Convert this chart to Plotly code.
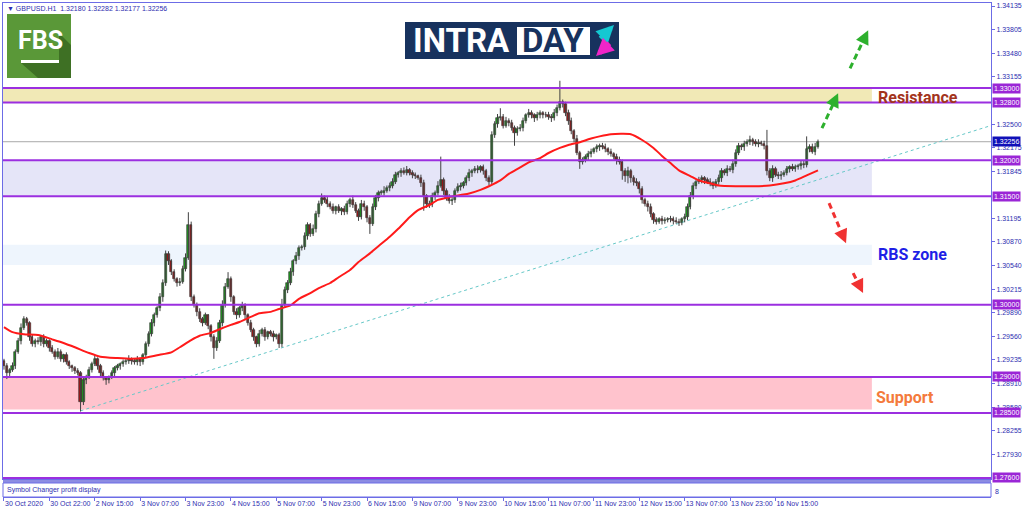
import plotly.graph_objects as go

# ---------------- data ----------------
first_open = 1.2922
closes = [
    1.2915, 1.2905, 1.2910, 1.2915, 1.2935, 1.2950, 1.2968, 1.2980, 1.2975, 1.2955,
    1.2945, 1.2950, 1.2948, 1.2955, 1.2945, 1.2950, 1.2940, 1.2935, 1.2928, 1.2935,
    1.2925, 1.2930, 1.2920, 1.2915, 1.2912, 1.2908, 1.2905, 1.2865, 1.2895, 1.2900,
    1.2910, 1.2918, 1.2925, 1.2915, 1.2905, 1.2898, 1.2895, 1.2900, 1.2905, 1.2912,
    1.2915, 1.2918, 1.2920, 1.2922, 1.2925, 1.2922, 1.2920, 1.2925, 1.2920, 1.2930,
    1.2945, 1.2960, 1.2975, 1.2985, 1.2995, 1.3010, 1.3030, 1.3070, 1.3060, 1.3045,
    1.3035, 1.3030, 1.3032, 1.3050, 1.3065, 1.3110, 1.3010, 1.3000, 1.2990, 1.2980,
    1.2975, 1.2985, 1.2970, 1.2955, 1.2940, 1.2950, 1.2975, 1.3000, 1.3025, 1.3035,
    1.3010, 1.2990, 1.2985, 1.2995, 1.3000, 1.2985, 1.2975, 1.2965, 1.2955, 1.2945,
    1.2960, 1.2965, 1.2955, 1.2962, 1.2960, 1.2955, 1.2958, 1.2945, 1.3000, 1.3020,
    1.3030, 1.3045, 1.3060, 1.3068, 1.3078, 1.3080, 1.3095, 1.3110, 1.3098, 1.3105,
    1.3125, 1.3140, 1.3148, 1.3145, 1.3140, 1.3135, 1.3130, 1.3135, 1.3130, 1.3132,
    1.3128, 1.3140, 1.3145, 1.3138, 1.3130, 1.3122, 1.3140, 1.3135, 1.3120, 1.3112,
    1.3135, 1.3148, 1.3155, 1.3155, 1.3158, 1.3162, 1.3165, 1.3170, 1.3180, 1.3182,
    1.3185, 1.3183, 1.3186, 1.3182, 1.3180, 1.3178, 1.3176, 1.3168, 1.3150, 1.3140,
    1.3138, 1.3150, 1.3155, 1.3165, 1.3172, 1.3158, 1.3148, 1.3143, 1.3145, 1.3158,
    1.3163, 1.3165, 1.3168, 1.3175, 1.3182, 1.3185, 1.3188, 1.3186, 1.3190, 1.3185,
    1.3175, 1.3170, 1.3235, 1.3250, 1.3258, 1.3260, 1.3248, 1.3255, 1.3252, 1.3245,
    1.3238, 1.3243, 1.3245, 1.3255, 1.3262, 1.3265, 1.3262, 1.3258, 1.3262, 1.3265,
    1.3263, 1.3262, 1.3260, 1.3258, 1.3265, 1.3272, 1.3280, 1.3278, 1.3265, 1.3255,
    1.3240, 1.3230, 1.3210, 1.3198, 1.3200, 1.3205, 1.3208, 1.3212, 1.3215, 1.3218,
    1.3220, 1.3218, 1.3215, 1.3212, 1.3208, 1.3205, 1.3200, 1.3198, 1.3185, 1.3178,
    1.3185, 1.3175, 1.3170, 1.3168, 1.3160, 1.3145, 1.3140, 1.3135, 1.3125, 1.3117,
    1.3115, 1.3118, 1.3116, 1.3117, 1.3118, 1.3119, 1.3116, 1.3115, 1.3113, 1.3118,
    1.3122, 1.3135, 1.3150, 1.3165, 1.3170, 1.3172, 1.3175, 1.3172, 1.3170, 1.3168,
    1.3165, 1.3170, 1.3175, 1.3185, 1.3182, 1.3188, 1.3187, 1.3195, 1.3210, 1.3220,
    1.3218, 1.3222, 1.3225, 1.3228, 1.3225, 1.3222, 1.3224, 1.3223, 1.3220, 1.3185,
    1.3175, 1.3188, 1.3180, 1.3178, 1.3180, 1.3183, 1.3188, 1.3190, 1.3188, 1.3190,
    1.3192, 1.3195, 1.3193, 1.3215, 1.3218, 1.3212, 1.3218, 1.32256,
]
# upper / lower wick lengths in pips (0.0001)
wick_up = [
    3, 4, 2, 5, 3, 4, 6, 4, 3, 2,
    4, 3, 5, 2, 4, 3, 2, 4, 3, 5,
    3, 2, 4, 3, 2, 3, 4, 3, 5, 3,
    4, 3, 5, 2, 3, 4, 3, 2, 4, 3,
    3, 2, 4, 3, 5, 2, 3, 4, 2, 3,
    4, 3, 5, 4, 3, 6, 5, 5, 4, 3,
    4, 3, 5, 4, 6, 18, 5, 4, 3, 5,
    3, 4, 2, 3, 4, 5, 4, 6, 5, 10,
    4, 3, 5, 3, 4, 2, 3, 4, 3, 2,
    5, 3, 4, 2, 3, 4, 2, 3, 8, 5,
    4, 6, 3, 5, 4, 3, 5, 4, 3, 6,
    5, 4, 6, 3, 4, 3, 5, 2, 4, 3,
    5, 4, 3, 6, 4, 3, 5, 4, 3, 4,
    5, 4, 3, 4, 6, 3, 4, 5, 4, 3,
    4, 5, 6, 3, 4, 3, 2, 4, 5, 3,
    4, 5, 3, 6, 33, 4, 3, 5, 4, 3,
    5, 4, 3, 4, 6, 3, 4, 5, 3, 4,
    3, 4, 5, 4, 6, 12, 4, 5, 3, 4,
    3, 4, 5, 4, 3, 6, 4, 3, 5, 4,
    3, 4, 5, 4, 6, 5, 30, 4, 3, 5,
    4, 3, 5, 3, 4, 3, 5, 4, 3, 4,
    3, 4, 5, 3, 4, 3, 4, 5, 3, 4,
    6, 3, 4, 5, 3, 4, 3, 4, 5, 3,
    4, 3, 5, 4, 3, 4, 3, 5, 4, 3,
    4, 5, 6, 4, 3, 5, 4, 3, 4, 5,
    3, 4, 5, 4, 3, 5, 4, 6, 5, 4,
    3, 5, 4, 6, 3, 4, 5, 3, 4, 22,
    4, 5, 3, 4, 5, 3, 4, 3, 5, 4,
    3, 4, 5, 18, 4, 5, 6, 3,
]
wick_dn = [
    5, 8, 4, 3, 4, 3, 5, 3, 4, 5,
    3, 4, 3, 5, 4, 3, 5, 3, 4, 3,
    4, 5, 3, 4, 5, 4, 3, 13, 4, 5,
    3, 4, 3, 5, 4, 3, 6, 4, 3, 4,
    3, 5, 4, 3, 4, 5, 3, 4, 5, 3,
    4, 3, 4, 5, 3, 4, 6, 4, 5, 4,
    3, 5, 4, 3, 4, 3, 5, 4, 6, 4,
    5, 3, 4, 6, 15, 4, 3, 5, 4, 3,
    6, 4, 5, 3, 4, 5, 4, 3, 5, 4,
    3, 4, 5, 3, 4, 6, 3, 5, 4, 3,
    4, 3, 5, 4, 6, 3, 4, 5, 4, 3,
    5, 4, 3, 4, 5, 3, 4, 5, 3, 6,
    4, 3, 5, 4, 3, 6, 4, 5, 6, 14,
    3, 4, 5, 3, 4, 3, 5, 4, 3, 4,
    5, 3, 4, 3, 5, 4, 3, 5, 20, 6,
    4, 3, 5, 4, 3, 6, 4, 3, 5, 4,
    3, 5, 4, 3, 4, 5, 3, 4, 3, 5,
    4, 5, 3, 4, 5, 3, 4, 3, 5, 4,
    18, 4, 3, 5, 4, 3, 4, 5, 3, 4,
    5, 3, 4, 5, 3, 4, 3, 5, 4, 6,
    4, 5, 3, 10, 4, 3, 5, 4, 3, 4,
    5, 3, 4, 5, 3, 4, 6, 4, 12, 8,
    10, 6, 5, 4, 6, 5, 4, 6, 4, 5,
    4, 3, 5, 4, 3, 4, 5, 3, 4, 3,
    4, 5, 3, 4, 5, 3, 4, 5, 3, 4,
    5, 3, 4, 5, 3, 4, 3, 5, 4, 3,
    4, 5, 3, 4, 5, 3, 4, 3, 5, 6,
    4, 5, 3, 4, 5, 3, 4, 5, 3, 4,
    3, 5, 4, 3, 4, 3, 5, 2,
]

# moving average (red line), read at selected bars
ma_idx = [0, 3, 7, 12, 17, 21, 25, 30, 34, 40, 45, 49, 54, 59, 62, 66, 69, 73, 76, 80,
          83, 87, 90, 94, 97, 101, 104, 108, 111, 115, 118, 122, 125, 129, 132, 136, 139, 143, 146, 150,
          153, 157, 161, 164, 168, 171, 175, 178, 182, 185, 189, 192, 196, 199, 203, 207, 210, 214, 221, 225,
          229, 232, 235, 238, 242, 245, 249, 252, 258, 264, 270, 275, 279, 283, 287]
ma_val = [1.2969, 1.2962, 1.2959, 1.2958, 1.2952, 1.2947, 1.2941, 1.2933, 1.2928, 1.2926,
          1.2925, 1.2926, 1.2930, 1.2934, 1.2941, 1.2951, 1.2957, 1.2961, 1.2966, 1.2972,
          1.2976, 1.2983, 1.2988, 1.2990, 1.2994, 1.2999, 1.3008, 1.3016, 1.3023, 1.3030,
          1.3038, 1.3048, 1.3059, 1.3071, 1.3081, 1.3094, 1.3105, 1.3121, 1.3131, 1.3138,
          1.3145, 1.3149, 1.3152, 1.3154, 1.3159, 1.3164, 1.3172, 1.3181, 1.3190, 1.3197,
          1.3203, 1.3210, 1.3217, 1.3221, 1.3225, 1.3230, 1.3233, 1.3236, 1.3236, 1.3228,
          1.3217, 1.3206, 1.3196, 1.3186, 1.3178, 1.3172, 1.3168, 1.3165, 1.3164, 1.3164,
          1.3165, 1.3168, 1.3172, 1.3179, 1.3186]

# trend line (two anchor points: bar index, price)
trend_idx = [27, 348]
trend_val = [1.2853, 1.3248]

# horizontal levels
levels = [1.3300, 1.3280, 1.3200, 1.3150, 1.3000, 1.2900, 1.2850, 1.2760]
current_price = 1.32256

# zones: low, high
zone_lo = [1.3280, 1.3150, 1.3055, 1.2855]
zone_hi = [1.3300, 1.3200, 1.3083, 1.2900]
zone_end_idx = 306

# axis ticks (those hidden behind level boxes in the reference are left out)
y_ticks = [1.34135, 1.33805, 1.33480, 1.33155, 1.32500, 1.32175, 1.31845,
           1.31195, 1.30870, 1.30540, 1.30215, 1.29890, 1.29560, 1.29235, 1.28910, 1.28580,
           1.28255, 1.27930]
x_tick_idx = [0, 16, 32, 48, 64, 80, 96, 112, 128, 144, 160, 176, 192, 208, 224, 240, 256, 272]
x_tick_text = ["30 Oct 2020", "30 Oct 22:00", "2 Nov 15:00", "3 Nov 07:00", "3 Nov 23:00",
               "4 Nov 15:00", "5 Nov 07:00", "5 Nov 23:00", "6 Nov 15:00", "9 Nov 07:00",
               "9 Nov 23:00", "10 Nov 15:00", "11 Nov 07:00", "11 Nov 23:00", "12 Nov 15:00",
               "13 Nov 07:00", "13 Nov 23:00", "16 Nov 15:00"]

assert len(closes) == len(wick_up) == len(wick_dn) == 288
assert len(ma_idx) == len(ma_val)

# ---------------- derived OHLC ----------------
idx = list(range(len(closes)))
opens = [first_open] + closes[:-1]
highs = [max(o, c) + u * 0.0001 for o, c, u in zip(opens, closes, wick_up)]
lows = [min(o, c) - d * 0.0001 for o, c, d in zip(opens, closes, wick_dn)]

# ---------------- layout geometry ----------------
W, H = 1024, 511
ML, MR, MT, MB = 3, 33, 3, 14
PW = W - ML - MR
PH = H - MT - MB
X_RANGE = [-0.35, 348.0]
Y_RANGE = [1.27586, 1.34177]
MAIN_BOTTOM_PX = 479
SUB_TOP_PX = 483


def px(x):
    return (x - ML) / PW


def py(y):
    return (H - MB - y) / PH


SX = PW / (X_RANGE[1] - X_RANGE[0])
SY = (MAIN_BOTTOM_PX - MT) / (Y_RANGE[1] - Y_RANGE[0])

FRAME = '#6C6CE6'
LEVEL = '#9B2FE0'
TXT = '#2E2EB0'
AXF = 'Liberation Sans'

fig = go.Figure()

fig.add_trace(go.Scatter(x=trend_idx, y=trend_val, mode='lines',
                         line=dict(color='#66C8C8', width=1, dash='dot'),
                         hoverinfo='skip', showlegend=False))

# wicks
wx, wy = [], []
for i, h, l in zip(idx, highs, lows):
    wx += [i, i, None]
    wy += [l, h, None]
fig.add_trace(go.Scatter(x=wx, y=wy, mode='lines', line=dict(color='#404040', width=1),
                         hoverinfo='skip', showlegend=False))

# bodies
body_base = [min(o, c) for o, c in zip(opens, closes)]
body_len = [max(abs(c - o), 0.00004) for o, c in zip(opens, closes)]
body_col = ['#1E9E1E' if c >= o else '#A01818' for o, c in zip(opens, closes)]
fig.add_trace(go.Bar(x=idx, y=body_len, base=body_base, width=0.8,
                     marker=dict(color=body_col, line=dict(color='#2a2a2a', width=0.6)),
                     hoverinfo='skip', showlegend=False))

fig.add_trace(go.Scatter(x=ma_idx, y=ma_val, mode='lines',
                         line=dict(color='#FF1A1A', width=2, shape='spline', smoothing=0.6),
                         hoverinfo='skip', showlegend=False))

# invisible trace for the sub panel axis
fig.add_trace(go.Scatter(x=[X_RANGE[0]], y=[0], xaxis='x2', yaxis='y2', mode='markers',
                         marker=dict(opacity=0), showlegend=False, hoverinfo='skip'))

shapes = []
zone_colors = ['#F1E9B6', '#E5E5F8', '#EEF5FD', '#FFC3CD']
for lo, hi, col in zip(zone_lo, zone_hi, zone_colors):
    shapes.append(dict(type='rect', xref='x', yref='y', x0=X_RANGE[0], x1=zone_end_idx,
                       y0=lo, y1=hi, fillcolor=col, line=dict(width=0), layer='below'))
shapes.append(dict(type='line', xref='paper', yref='y', x0=0, x1=1, y0=current_price,
                   y1=current_price, line=dict(color='#A8A8A8', width=1), layer='below'))
for lv in levels:
    shapes.append(dict(type='line', xref='paper', yref='y', x0=0, x1=1, y0=lv, y1=lv,
                       line=dict(color=LEVEL, width=2), layer='above'))
# separator band and sub panel frame
shapes.append(dict(type='rect', xref='paper', yref='paper', x0=0, x1=1,
                   y0=py(SUB_TOP_PX), y1=py(MAIN_BOTTOM_PX + 1), fillcolor='#8C8CE2',
                   line=dict(width=0), layer='above'))
shapes.append(dict(type='rect', xref='paper', yref='paper', x0=0, x1=1, y0=0,
                   y1=py(SUB_TOP_PX), line=dict(color=FRAME, width=1)))

# FBS logo
shapes.append(dict(type='rect', xref='paper', yref='paper', x0=px(7), x1=px(71),
                   y0=py(78), y1=py(14), fillcolor='#5A9838', line=dict(width=0)))
shapes.append(dict(type='path', xref='paper', yref='paper',
                   path=f"M {px(59)} {py(33)} L {px(71)} {py(45)} L {px(71)} {py(78)} "
                        f"L {px(38)} {py(78)} L {px(21)} {py(63)} L {px(59)} {py(63)} Z",
                   fillcolor='#3E7024', line=dict(width=0)))
shapes.append(dict(type='rect', xref='paper', yref='paper', x0=px(21), x1=px(59),
                   y0=py(63), y1=py(60), fillcolor='white', line=dict(width=0)))
# INTRADAY logo
shapes.append(dict(type='rect', xref='paper', yref='paper', x0=px(405), x1=px(619),
                   y0=py(59), y1=py(22), fillcolor='#17325E', line=dict(width=0)))
shapes.append(dict(type='rect', xref='paper', yref='paper', x0=px(517), x1=px(590),
                   y0=py(55), y1=py(27), fillcolor='white', line=dict(width=0)))

annotations = []
# arrows (dashed) with heads
arrows = [
    ((288.4, 1.32443), (294.1, 1.32927), '#2DB02D'),
    ((298.3, 1.33272), (304.7, 1.33798), '#2DB02D'),
    ((290.9, 1.31405), (296.9, 1.30852), '#F03232'),
    ((299.4, 1.30437), (302.9, 1.30161), '#F03232'),
]
for (x0, y0), (x1, y1), col in arrows:
    dxs = (x1 - x0) * SX
    dys = -(y1 - y0) * SY
    n = (dxs ** 2 + dys ** 2) ** 0.5
    ux, uy = dxs / n, dys / n
    xe = x1 - ux * 5 / SX
    ye = y1 + uy * 5 / SY
    shapes.append(dict(type='line', xref='x', yref='y', x0=x0, y0=y0, x1=xe, y1=ye,
                       line=dict(color=col, width=3, dash='6px,4px')))
    annotations.append(dict(x=x1, y=y1, xref='x', yref='y', ax=-ux * 9, ay=-uy * 9,
                            showarrow=True, arrowhead=2, arrowsize=1.1, arrowwidth=2.5,
                            arrowcolor=col, text=''))

# level boxes on the price axis
for lv in levels:
    annotations.append(dict(xref='paper', x=1, xanchor='left', xshift=1, yref='y', y=lv,
                            yanchor='middle',
                            text=f"{lv:.5f}", showarrow=False, bgcolor='#9A26D6',
                            font=dict(size=7, color='white', family=AXF), borderpad=1))
annotations.append(dict(xref='paper', x=1, xanchor='left', xshift=1, yref='y', y=current_price,
                        yanchor='middle',
                        text=f"{current_price:.5f}", showarrow=False, bgcolor='#1010B8',
                        font=dict(size=7, color='white', family=AXF), borderpad=1))


def label(x, y, text, size, color, family, anchor='left', weight='normal'):
    return dict(xref='paper', yref='paper', x=px(x), y=py(y), xanchor=anchor,
                yanchor='middle', text=text, showarrow=False,
                font=dict(size=size, color=color, family=family, weight=weight))


# zone labels
annotations.append(label(876, 97, 'Resistance', 16, '#A3341C', 'Roboto', weight='bold'))
annotations.append(label(876, 255, 'RBS zone', 16, '#1F1FE6', 'Roboto', weight='bold'))
annotations.append(label(874, 397, 'Support', 16, '#F47A3C', 'Roboto', weight='bold'))

# header / sub panel texts
annotations.append(label(5, 8, '\u25bc GBPUSD.H1  1.32180 1.32282 1.32177 1.32256', 7, TXT, AXF))
annotations.append(label(5, 490, 'Symbol Changer profit display', 7, TXT, AXF))
annotations.append(label(993, 491, '8', 7, TXT, AXF))

# logo texts
annotations.append(label(40, 41, 'FBS', 25, 'white', 'Roboto', anchor='center', weight='bold'))
annotations.append(label(461, 41, 'INTRA', 33, 'white', 'Roboto', anchor='center', weight='bold'))
annotations.append(label(553, 41, 'DAY', 33, '#17325E', 'Roboto', anchor='center', weight='bold'))
annotations.append(dict(xref='paper', yref='paper', x=px(614), y=py(25), ax=-15, ay=15,
                        axref='pixel', ayref='pixel', showarrow=True, arrowhead=2,
                        arrowwidth=5, arrowsize=0.7, arrowcolor='#14C8D2', text=''))
annotations.append(dict(xref='paper', yref='paper', x=px(596), y=py(56), ax=15, ay=-14,
                        axref='pixel', ayref='pixel', showarrow=True, arrowhead=2,
                        arrowwidth=5, arrowsize=0.7, arrowcolor='#F025C8', text=''))

fig.update_layout(
    width=W, height=H,
    margin=dict(l=ML, r=MR, t=MT, b=MB, autoexpand=False),
    paper_bgcolor='white', plot_bgcolor='white',
    showlegend=False, bargap=0,
    shapes=shapes, annotations=annotations,
    xaxis=dict(range=X_RANGE, domain=[0, 1], anchor='y', showticklabels=False,
               showgrid=False, zeroline=False, showline=True, mirror=True, automargin=False,
               linecolor=FRAME, linewidth=1, rangeslider=dict(visible=False), ticks=''),
    yaxis=dict(range=Y_RANGE, domain=[py(MAIN_BOTTOM_PX), 1], side='right', anchor='x',
               tickvals=y_ticks, ticktext=[f"{v:.5f}" for v in y_ticks],
               ticks='outside', ticklen=3, tickcolor=FRAME, automargin=False,
               tickfont=dict(size=7, color=TXT, family=AXF),
               showgrid=False, zeroline=False, showline=True, mirror=True,
               linecolor=FRAME, linewidth=1),
    xaxis2=dict(range=X_RANGE, domain=[0, 1], anchor='y2', tickvals=x_tick_idx,
                ticktext=x_tick_text, ticks='outside', ticklen=3, tickcolor=FRAME,
                ticklabelposition='outside right', tickangle=0, automargin=False,
                tickfont=dict(size=7, color=TXT, family=AXF),
                showgrid=False, zeroline=False, showline=True, linecolor=FRAME, linewidth=1),
    yaxis2=dict(domain=[0, py(SUB_TOP_PX)], anchor='x2', showticklabels=False,
                showgrid=False, zeroline=False, range=[0, 1], automargin=False),
    hovermode=False,
)

fig.write_html("out.html",
               config={'displayModeBar': False},
               post_script="document.body.style.margin='0px';"
                           "document.body.style.overflow='hidden';")
